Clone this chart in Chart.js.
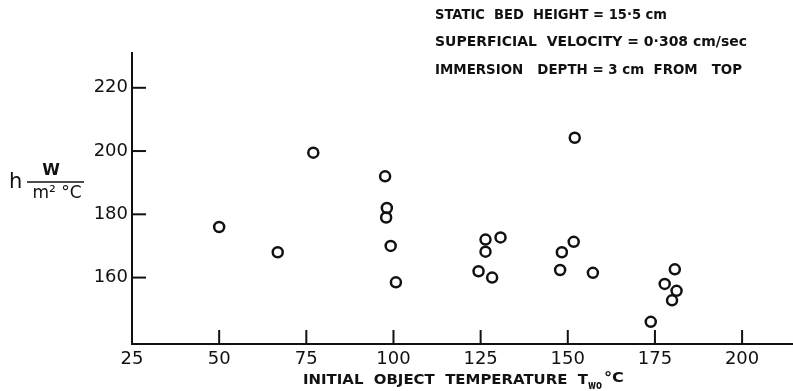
<!DOCTYPE html>
<html>
<head>
<meta charset="utf-8">
<script src="https://cdn.jsdelivr.net/npm/chart.js@4.4.1/dist/chart.umd.min.js"></script>
<style>
  html, body { margin: 0; padding: 0; background: #fff; }
  #wrap { width: 793px; height: 391px; }
</style>
</head>
<body>
<div id="wrap"><canvas id="gaugeChart" width="793" height="391"></canvas></div>
<script>
// initial object temperature (deg C) and heat transfer coefficient h (W/m2 C)
var tempValues = [50, 66.8, 77, 97.6, 97.9, 98.1, 99.2, 100.7,
                  124.4, 126.4, 126.4, 128.3, 130.7,
                  147.8, 148.3, 151.7, 152, 157.2,
                  173.8, 177.8, 179.9, 180.7, 181.2];
var hValues = [176, 168, 199.5, 192, 179, 182, 170, 158.5,
               162, 172, 168.2, 160, 172.7,
               162.4, 168, 171.3, 204.2, 161.5,
               146, 158, 152.8, 162.6, 155.8];
var xTicks = [25, 50, 75, 100, 125, 150, 175, 200];
var yTicks = [160, 180, 200, 220];
var notes = ['STATIC  BED  HEIGHT = 15·5 cm',
             'SUPERFICIAL  VELOCITY = 0·308 cm/sec',
             'IMMERSION   DEPTH = 3 cm  FROM   TOP'];

var ink = '#111';
var points = tempValues.map(function (t, i) { return { x: t, y: hValues[i] }; });

// draw text stretched/squeezed to a given width
function fitText(ctx, s, x, y, w) {
  const m = ctx.measureText(s).width;
  ctx.save();
  ctx.translate(x, y);
  ctx.scale(w / m, 1);
  ctx.fillText(s, 0, 0);
  ctx.restore();
}

const plotText = {
  id: 'plotText',
  afterDraw(chart) {
    const { ctx, chartArea: { left, bottom }, scales: { x, y } } = chart;
    ctx.save();
    ctx.strokeStyle = ink;
    ctx.lineWidth = 2;
    // inward tick marks
    x.ticks.forEach(function (t) {
      if (t.value === x.min) return;
      const px = x.getPixelForValue(t.value);
      ctx.beginPath(); ctx.moveTo(px, bottom); ctx.lineTo(px, bottom - 14); ctx.stroke();
    });
    y.ticks.forEach(function (t) {
      const py = y.getPixelForValue(t.value);
      ctx.beginPath(); ctx.moveTo(left, py); ctx.lineTo(left + 14, py); ctx.stroke();
    });

    ctx.fillStyle = ink;
    ctx.textBaseline = 'middle';
    ctx.textAlign = 'left';
    // notes top right
    ctx.font = 'bold 14px "DejaVu Sans"';
    const widths = [232, 312, 307];
    notes.forEach(function (s, i) {
      fitText(ctx, s, 435, 15 + i * 27.5, widths[i]);
    });

    // y title: h W / m2 C
    ctx.font = '21px "DejaVu Sans"';
    ctx.fillText('h', 9, 183);
    ctx.lineWidth = 1.5;
    ctx.beginPath(); ctx.moveTo(27, 182); ctx.lineTo(84, 182); ctx.stroke();
    ctx.textAlign = 'center';
    ctx.font = 'bold 16px "DejaVu Sans"';
    ctx.fillText('W', 51, 171);
    ctx.font = '17px "DejaVu Sans"';
    ctx.fillText('m² °C', 57, 194);

    // x title
    ctx.textAlign = 'left';
    ctx.font = 'bold 14px "DejaVu Sans"';
    fitText(ctx, 'INITIAL  OBJECT  TEMPERATURE  T', 303, 380, 285);
    ctx.font = 'bold 13px "DejaVu Sans"';
    fitText(ctx, 'wo', 588, 386, 14);
    ctx.font = 'bold 14px "DejaVu Sans"';
    fitText(ctx, '°C', 604, 378, 20);
    ctx.restore();
  }
};

new Chart(document.getElementById('gaugeChart'), {
  type: 'scatter',
  data: {
    datasets: [{
      data: points,
      pointStyle: 'circle',
      pointRadius: 5,
      pointBorderWidth: 2.5,
      pointBorderColor: ink,
      pointBackgroundColor: 'rgba(0,0,0,0)'
    }]
  },
  options: {
    responsive: false,
    animation: false,
    layout: { autoPadding: false, padding: { top: 53, left: 0, right: 0, bottom: 0 } },
    plugins: { legend: { display: false }, tooltip: { enabled: false } },
    scales: {
      x: {
        type: 'linear',
        min: 25,
        max: 214.6,
        afterBuildTicks: function (s) { s.ticks = xTicks.map(function (v) { return { value: v }; }); },
        afterFit: function (s) { s.height = 47; s.paddingLeft = 0; s.paddingRight = 0; },
        grid: { drawOnChartArea: false, drawTicks: false },
        border: { color: ink, width: 2 },
        ticks: { padding: 5, color: ink, font: { family: 'DejaVu Sans', size: 18 }, maxRotation: 0 }
      },
      y: {
        type: 'linear',
        min: 139,
        max: 231,
        afterBuildTicks: function (s) { s.ticks = yTicks.map(function (v) { return { value: v }; }); },
        afterFit: function (s) { s.width = 132; s.paddingTop = 0; s.paddingBottom = 0; },
        grid: { drawOnChartArea: false, drawTicks: false },
        border: { color: ink, width: 2 },
        ticks: { padding: 4, color: ink, font: { family: 'DejaVu Sans', size: 18 } }
      }
    }
  },
  plugins: [plotText]
});
</script>
</body>
</html>
